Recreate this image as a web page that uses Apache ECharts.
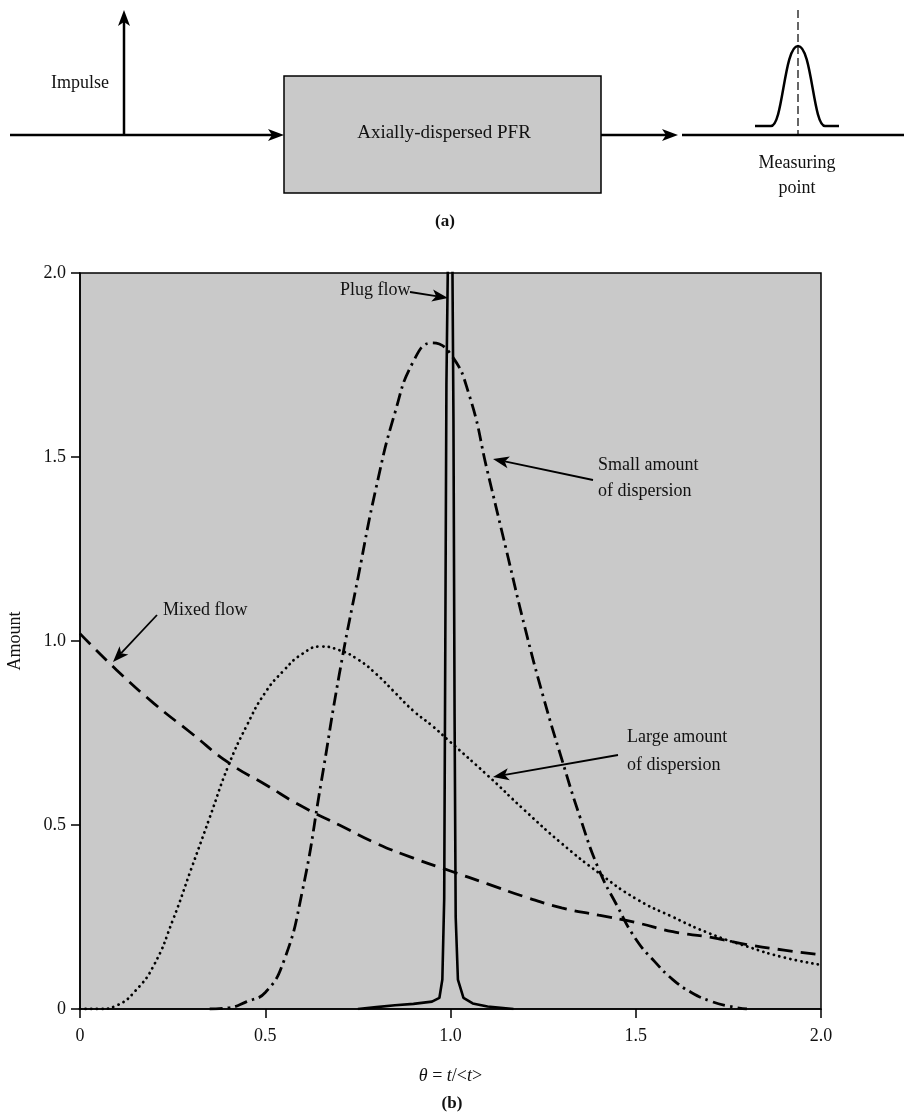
<!DOCTYPE html>
<html>
<head>
<meta charset="utf-8">
<script src="https://cdn.jsdelivr.net/npm/echarts@6/dist/echarts.min.js"></script>
<style>
  body { margin: 0; background: #fff; }
  #chart { width: 904px; height: 1113px; }
</style>
</head>
<body>
<div id="chart"></div>
<script>
// Tick labels
const xTicks = [0, 0.5, 1.0, 1.5, 2.0];
const yTicks = [0, 0.5, 1.0, 1.5, 2.0];

// Mixed flow (dashed)
const mixedTheta = [0, 0.1, 0.2, 0.3, 0.4, 0.5, 0.6, 0.7, 0.8, 0.9, 1.0, 1.1, 1.2, 1.3, 1.4, 1.5, 1.6, 1.7, 1.8, 1.9, 2.0];
const mixedVal = [1.02, 0.92, 0.83, 0.75, 0.67, 0.61, 0.55, 0.50, 0.45, 0.41, 0.375, 0.34, 0.305, 0.275, 0.255, 0.235, 0.21, 0.195, 0.175, 0.16, 0.147];

// Large amount of dispersion (dotted)
const largeTheta = [0, 0.05, 0.1, 0.15, 0.2, 0.25, 0.3, 0.35, 0.4, 0.45, 0.5, 0.55, 0.6, 0.65, 0.7, 0.75, 0.8, 0.85, 0.9, 0.95, 1.0, 1.1, 1.2, 1.3, 1.4, 1.5, 1.6, 1.7, 1.8, 1.9, 2.0];
const largeVal = [0, 0, 0.01, 0.05, 0.12, 0.24, 0.38, 0.52, 0.66, 0.77, 0.86, 0.92, 0.965, 0.985, 0.975, 0.95, 0.91, 0.86, 0.81, 0.77, 0.725, 0.635, 0.54, 0.45, 0.37, 0.30, 0.25, 0.205, 0.17, 0.14, 0.12];

// Small amount of dispersion (dash-dot)
const smallTheta = [0.35, 0.4, 0.45, 0.5, 0.55, 0.6, 0.65, 0.7, 0.75, 0.8, 0.85, 0.9, 0.95, 1.0, 1.05, 1.1, 1.15, 1.2, 1.25, 1.3, 1.35, 1.4, 1.45, 1.5, 1.55, 1.6, 1.65, 1.7, 1.75, 1.8];
const smallVal = [0, 0.003, 0.02, 0.045, 0.13, 0.32, 0.61, 0.91, 1.17, 1.42, 1.62, 1.76, 1.81, 1.78, 1.67, 1.46, 1.25, 1.04, 0.85, 0.68, 0.52, 0.38, 0.28, 0.19, 0.13, 0.08, 0.045, 0.022, 0.008, 0];

// Plug flow (solid spike)
const plugTheta = [0.75, 0.8, 0.85, 0.9, 0.95, 0.97, 0.978, 0.983, 0.986, 0.989, 0.995, 1.0, 1.004, 1.008, 1.011, 1.014, 1.02, 1.035, 1.06, 1.1, 1.17];
const plugVal = [0, 0.005, 0.01, 0.014, 0.02, 0.03, 0.08, 0.3, 1.0, 1.7, 2.2, 2.6, 2.2, 1.6, 0.8, 0.25, 0.08, 0.03, 0.015, 0.007, 0];

const SERIF = '"Liberation Serif", "DejaVu Serif", serif';
const GRAY = '#c9c9c9';

function zip(xs, ys) {
    return xs.map((x, i) => [x, ys[i]]);
}

function fmt(v) {
    return v === 0 ? '0' : v.toFixed(1);
}

// line with a filled arrow head at (x2, y2)
function arrow(x1, y1, x2, y2, w) {
    const dx = x2 - x1, dy = y2 - y1;
    const len = Math.hypot(dx, dy);
    const ux = dx / len, uy = dy / len;
    const hl = 16, hw = 6;
    const bx = x2 - ux * hl, by = y2 - uy * hl;
    return [
        { type: 'line', shape: { x1: x1, y1: y1, x2: bx + ux * 4, y2: by + uy * 4 },
          style: { stroke: '#000', lineWidth: w || 1.8 } },
        { type: 'polygon', shape: { points: [
            [x2, y2], [bx - uy * hw, by + ux * hw], [bx + ux * 4, by + uy * 4], [bx + uy * hw, by - ux * hw]
          ] }, style: { fill: '#000' } }
    ];
}

function label(text, x, y, align) {
    return { type: 'text', z: 10, style: {
        text: text, x: x, y: y, fill: '#111',
        fontSize: 18, fontFamily: SERIF,
        align: align || 'left', verticalAlign: 'middle'
    } };
}

function centered(text, x, y, size, weight) {
    const t = label(text, x, y, 'center');
    if (size) t.style.fontSize = size;
    if (weight) t.style.fontWeight = weight;
    return t;
}

function hline(x1, x2, y, w) {
    return { type: 'line', shape: { x1: x1, y1: y, x2: x2, y2: y },
             style: { stroke: '#000', lineWidth: w } };
}

function curve(x1, y1, c1x, c1y, c2x, c2y, x2, y2) {
    return { type: 'bezierCurve',
             shape: { x1: x1, y1: y1, cpx1: c1x, cpy1: c1y, cpx2: c2x, cpy2: c2y, x2: x2, y2: y2 },
             style: { fill: null, stroke: '#000', lineWidth: 2.5 } };
}

const chart = echarts.init(document.getElementById('chart'));

// top block diagram (a)
const diagram = [].concat(
    arrow(10, 135, 284, 135, 2.5),
    arrow(124, 135, 124, 10, 2.5),
    arrow(601, 135, 678, 135, 2.5),
    [
        centered('Impulse', 80, 83),
        { type: 'rect', shape: { x: 284, y: 76, width: 317, height: 117 },
          style: { fill: GRAY, stroke: '#000', lineWidth: 1.5 } },
        centered('Axially-dispersed PFR', 444, 133, 19),
        hline(682, 904, 135, 2.5),
        // measuring point pulse
        hline(755, 771, 126, 2.5),
        curve(771, 126, 783, 126, 784, 46, 798, 46),
        curve(798, 46, 812, 46, 813, 126, 825, 126),
        hline(825, 839, 126, 2.5),
        { type: 'line', shape: { x1: 798, y1: 10, x2: 798, y2: 135 },
          style: { stroke: '#000', lineWidth: 1.2, lineDash: [8, 4] } },
        centered('Measuring', 797, 163),
        centered('point', 797, 188),
        centered('(a)', 445, 222, 17, 'bold'),
        centered('(b)', 452, 1104, 17, 'bold')
    ]
);

// annotations inside the plot
const notes = [].concat(
    [label('Mixed flow', 163, 610)],
    arrow(157, 615, 113, 662),
    [label('Plug flow', 340, 290)],
    arrow(410, 292, 448, 298),
    [label('Small amount', 598, 465), label('of dispersion', 598, 491)],
    arrow(593, 480, 493, 459),
    [label('Large amount', 627, 737), label('of dispersion', 627, 765)],
    arrow(618, 755, 493, 777)
);

const option = {
    animation: false,
    backgroundColor: '#fff',
    grid: {
        left: 80, top: 273, width: 741, height: 736,
        outerBoundsMode: 'none', containLabel: false,
        show: true, backgroundColor: GRAY,
        borderColor: '#000', borderWidth: 1.5
    },
    xAxis: {
        type: 'value', min: xTicks[0], max: xTicks[xTicks.length - 1], interval: 0.5,
        name: '{i|θ} = {i|t}/<{i|t}>',
        nameLocation: 'middle', nameGap: 58,
        nameTextStyle: {
            color: '#111', fontSize: 18, fontFamily: SERIF,
            rich: { i: { fontStyle: 'italic', fontSize: 18, fontFamily: SERIF, color: '#111' } }
        },
        axisLine: { lineStyle: { color: '#000', width: 1.5 } },
        axisTick: { show: true, length: 9, lineStyle: { color: '#000', width: 1.5 } },
        axisLabel: { color: '#111', fontSize: 18, fontFamily: SERIF, margin: 18, formatter: fmt },
        splitLine: { show: false }
    },
    yAxis: {
        type: 'value', min: yTicks[0], max: yTicks[yTicks.length - 1], interval: 0.5,
        name: 'Amount',
        nameLocation: 'middle', nameGap: 56,
        nameTextStyle: { color: '#111', fontSize: 18, fontFamily: SERIF },
        axisLine: { show: true, lineStyle: { color: '#000', width: 1.5 } },
        axisTick: { show: true, length: 9, lineStyle: { color: '#000', width: 1.5 } },
        axisLabel: { color: '#111', fontSize: 18, fontFamily: SERIF, margin: 14, formatter: fmt },
        splitLine: { show: false }
    },
    series: [
        {
            name: 'Mixed flow', type: 'line', smooth: true, showSymbol: false,
            data: zip(mixedTheta, mixedVal),
            lineStyle: { color: '#000', width: 2.8, type: [15, 8] }
        },
        {
            name: 'Large amount of dispersion', type: 'line', smooth: true, showSymbol: false,
            data: zip(largeTheta, largeVal),
            lineStyle: { color: '#000', width: 2.8, type: [0.1, 5.5], cap: 'round' }
        },
        {
            name: 'Small amount of dispersion', type: 'line', smooth: true, showSymbol: false,
            data: zip(smallTheta, smallVal),
            lineStyle: { color: '#000', width: 2.8, type: [13, 5, 2.5, 5] }
        },
        {
            name: 'Plug flow', type: 'line', smooth: false, showSymbol: false,
            data: zip(plugTheta, plugVal),
            lineStyle: { color: '#000', width: 2.6 }
        }
    ],
    graphic: diagram.concat(notes)
};

chart.setOption(option);
</script>
</body>
</html>
